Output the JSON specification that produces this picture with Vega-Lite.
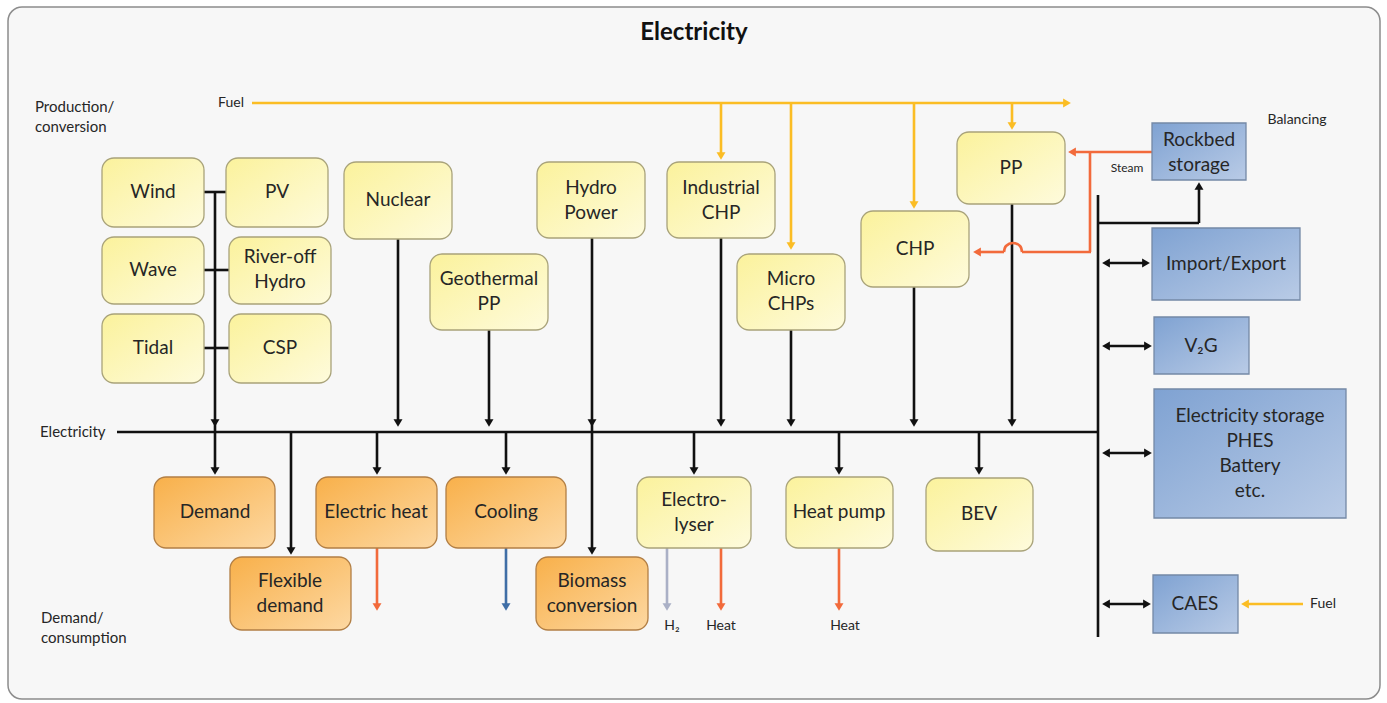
{
  "$schema": "https://vega.github.io/schema/vega-lite/v6.json",
  "width": 1387,
  "height": 703,
  "autosize": {"type": "fit", "contains": "padding"},
  "padding": 0,
  "background": "#ffffff",
  "config": {"view": {"stroke": null}, "font": "Lato"},
  "datasets": {
    "frame": [{"x": 8, "y": 7, "x2": 1380, "y2": 699}],
    "boxes": [
      {"name": "Wind", "type": "yellow", "x": 102, "y": 158, "x2": 204, "y2": 227},
      {"name": "PV", "type": "yellow", "x": 226, "y": 158, "x2": 328, "y2": 227},
      {"name": "Wave", "type": "yellow", "x": 102, "y": 237, "x2": 204, "y2": 304},
      {"name": "River-off Hydro", "type": "yellow", "x": 229, "y": 237, "x2": 331, "y2": 304},
      {"name": "Tidal", "type": "yellow", "x": 102, "y": 314, "x2": 204, "y2": 383},
      {"name": "CSP", "type": "yellow", "x": 229, "y": 314, "x2": 331, "y2": 383},
      {"name": "Nuclear", "type": "yellow", "x": 344, "y": 162, "x2": 452, "y2": 239},
      {"name": "Hydro Power", "type": "yellow", "x": 537, "y": 162, "x2": 645, "y2": 238},
      {"name": "Geothermal PP", "type": "yellow", "x": 430, "y": 254, "x2": 548, "y2": 330},
      {"name": "Industrial CHP", "type": "yellow", "x": 667, "y": 162, "x2": 775, "y2": 238},
      {"name": "Micro CHPs", "type": "yellow", "x": 737, "y": 254, "x2": 845, "y2": 330},
      {"name": "CHP", "type": "yellow", "x": 861, "y": 211, "x2": 969, "y2": 287},
      {"name": "PP", "type": "yellow", "x": 957, "y": 132, "x2": 1065, "y2": 204},
      {"name": "Electrolyser", "type": "yellow", "x": 637, "y": 477, "x2": 751, "y2": 548},
      {"name": "Heat pump", "type": "yellow", "x": 786, "y": 477, "x2": 893, "y2": 548},
      {"name": "BEV", "type": "yellow", "x": 926, "y": 478, "x2": 1033, "y2": 551},
      {"name": "Demand", "type": "orange", "x": 154, "y": 477, "x2": 275, "y2": 548},
      {"name": "Flexible demand", "type": "orange", "x": 230, "y": 557, "x2": 351, "y2": 630},
      {"name": "Electric heat", "type": "orange", "x": 316, "y": 477, "x2": 437, "y2": 548},
      {"name": "Cooling", "type": "orange", "x": 446, "y": 477, "x2": 566, "y2": 548},
      {"name": "Biomass conversion", "type": "orange", "x": 536, "y": 557, "x2": 648, "y2": 630},
      {"name": "Rockbed storage", "type": "blue", "x": 1152, "y": 123, "x2": 1246, "y2": 180},
      {"name": "Import/Export", "type": "blue", "x": 1152, "y": 228, "x2": 1300, "y2": 300},
      {"name": "V2G", "type": "blue", "x": 1154, "y": 317, "x2": 1249, "y2": 374},
      {"name": "Electricity storage", "type": "blue", "x": 1154, "y": 389, "x2": 1346, "y2": 518},
      {"name": "CAES", "type": "blue", "x": 1153, "y": 575, "x2": 1238, "y2": 633}
    ],
    "lines": [
      {"flow": "fuel", "x": 252, "y": 103, "x2": 1066, "y2": 103},
      {"flow": "fuel", "x": 721, "y": 103, "x2": 721, "y2": 156},
      {"flow": "fuel", "x": 791, "y": 103, "x2": 791, "y2": 246},
      {"flow": "fuel", "x": 914, "y": 103, "x2": 914, "y2": 205},
      {"flow": "fuel", "x": 1012, "y": 103, "x2": 1012, "y2": 126},
      {"flow": "fuel", "x": 1303, "y": 604, "x2": 1246, "y2": 604},
      {"flow": "electricity", "x": 117, "y": 432, "x2": 1098, "y2": 432},
      {"flow": "electricity", "x": 215, "y": 192, "x2": 215, "y2": 471},
      {"flow": "electricity", "x": 204, "y": 192, "x2": 226, "y2": 192},
      {"flow": "electricity", "x": 204, "y": 270, "x2": 229, "y2": 270},
      {"flow": "electricity", "x": 204, "y": 348, "x2": 229, "y2": 348},
      {"flow": "electricity", "x": 398, "y": 239, "x2": 398, "y2": 423},
      {"flow": "electricity", "x": 489, "y": 330, "x2": 489, "y2": 423},
      {"flow": "electricity", "x": 592, "y": 238, "x2": 592, "y2": 551},
      {"flow": "electricity", "x": 721, "y": 238, "x2": 721, "y2": 423},
      {"flow": "electricity", "x": 791, "y": 330, "x2": 791, "y2": 423},
      {"flow": "electricity", "x": 914, "y": 287, "x2": 914, "y2": 423},
      {"flow": "electricity", "x": 1012, "y": 204, "x2": 1012, "y2": 423},
      {"flow": "electricity", "x": 291, "y": 432, "x2": 291, "y2": 551},
      {"flow": "electricity", "x": 377, "y": 432, "x2": 377, "y2": 471},
      {"flow": "electricity", "x": 506, "y": 432, "x2": 506, "y2": 471},
      {"flow": "electricity", "x": 694, "y": 432, "x2": 694, "y2": 471},
      {"flow": "electricity", "x": 839, "y": 432, "x2": 839, "y2": 471},
      {"flow": "electricity", "x": 979, "y": 432, "x2": 979, "y2": 471},
      {"flow": "electricity", "x": 1098, "y": 195, "x2": 1098, "y2": 637},
      {"flow": "electricity", "x": 1098, "y": 223, "x2": 1199, "y2": 223},
      {"flow": "electricity", "x": 1199, "y": 223, "x2": 1199, "y2": 187},
      {"flow": "electricity", "x": 1106, "y": 263, "x2": 1145, "y2": 263},
      {"flow": "electricity", "x": 1106, "y": 346, "x2": 1147, "y2": 346},
      {"flow": "electricity", "x": 1106, "y": 453, "x2": 1147, "y2": 453},
      {"flow": "electricity", "x": 1106, "y": 604, "x2": 1146, "y2": 604},
      {"flow": "heat", "x": 1152, "y": 152, "x2": 1073, "y2": 152},
      {"flow": "heat", "x": 1090, "y": 152, "x2": 1090, "y2": 252},
      {"flow": "heat", "x": 1091, "y": 252, "x2": 1022, "y2": 252},
      {"flow": "heat", "x": 1004, "y": 252, "x2": 978, "y2": 252},
      {"flow": "heat", "x": 377, "y": 548, "x2": 377, "y2": 607},
      {"flow": "heat", "x": 721, "y": 548, "x2": 721, "y2": 607},
      {"flow": "heat", "x": 839, "y": 548, "x2": 839, "y2": 607},
      {"flow": "cooling", "x": 506, "y": 548, "x2": 506, "y2": 607},
      {"flow": "h2", "x": 667, "y": 548, "x2": 667, "y2": 607}
    ],
    "hump": [
      {"flow": "heat", "x": 1022, "y": 252},
      {"flow": "heat", "x": 1020, "y": 246},
      {"flow": "heat", "x": 1013, "y": 243},
      {"flow": "heat", "x": 1006, "y": 246},
      {"flow": "heat", "x": 1004, "y": 252}
    ],
    "heads": [
      {"flow": "fuel", "dir": "right", "x": 1067, "y": 103},
      {"flow": "fuel", "dir": "down", "x": 721, "y": 156},
      {"flow": "fuel", "dir": "down", "x": 791, "y": 246},
      {"flow": "fuel", "dir": "down", "x": 914, "y": 205},
      {"flow": "fuel", "dir": "down", "x": 1012, "y": 126},
      {"flow": "fuel", "dir": "left", "x": 1245, "y": 604},
      {"flow": "electricity", "dir": "down", "x": 215, "y": 423},
      {"flow": "electricity", "dir": "down", "x": 398, "y": 423},
      {"flow": "electricity", "dir": "down", "x": 489, "y": 423},
      {"flow": "electricity", "dir": "down", "x": 592, "y": 423},
      {"flow": "electricity", "dir": "down", "x": 721, "y": 423},
      {"flow": "electricity", "dir": "down", "x": 791, "y": 423},
      {"flow": "electricity", "dir": "down", "x": 914, "y": 423},
      {"flow": "electricity", "dir": "down", "x": 1012, "y": 423},
      {"flow": "electricity", "dir": "down", "x": 215, "y": 471},
      {"flow": "electricity", "dir": "down", "x": 377, "y": 471},
      {"flow": "electricity", "dir": "down", "x": 506, "y": 471},
      {"flow": "electricity", "dir": "down", "x": 694, "y": 471},
      {"flow": "electricity", "dir": "down", "x": 839, "y": 471},
      {"flow": "electricity", "dir": "down", "x": 979, "y": 471},
      {"flow": "electricity", "dir": "down", "x": 291, "y": 551},
      {"flow": "electricity", "dir": "down", "x": 592, "y": 551},
      {"flow": "electricity", "dir": "up", "x": 1199, "y": 186},
      {"flow": "electricity", "dir": "left", "x": 1106, "y": 263},
      {"flow": "electricity", "dir": "right", "x": 1146, "y": 263},
      {"flow": "electricity", "dir": "left", "x": 1106, "y": 346},
      {"flow": "electricity", "dir": "right", "x": 1148, "y": 346},
      {"flow": "electricity", "dir": "left", "x": 1106, "y": 453},
      {"flow": "electricity", "dir": "right", "x": 1148, "y": 453},
      {"flow": "electricity", "dir": "left", "x": 1106, "y": 604},
      {"flow": "electricity", "dir": "right", "x": 1147, "y": 604},
      {"flow": "heat", "dir": "left", "x": 1072, "y": 152},
      {"flow": "heat", "dir": "left", "x": 977, "y": 252},
      {"flow": "heat", "dir": "down", "x": 377, "y": 607},
      {"flow": "heat", "dir": "down", "x": 721, "y": 607},
      {"flow": "heat", "dir": "down", "x": 839, "y": 607},
      {"flow": "cooling", "dir": "down", "x": 506, "y": 607},
      {"flow": "h2", "dir": "down", "x": 667, "y": 607}
    ],
    "labels": [
      {"kind": "title", "text": "Electricity", "x": 694, "y": 33},
      {"kind": "box", "text": "Wind", "x": 153, "y": 192},
      {"kind": "box", "text": "PV", "x": 277, "y": 192},
      {"kind": "box", "text": "Wave", "x": 153, "y": 270},
      {"kind": "box", "text": "River-off\nHydro", "x": 280, "y": 257},
      {"kind": "box", "text": "Tidal", "x": 153, "y": 348},
      {"kind": "box", "text": "CSP", "x": 280, "y": 348},
      {"kind": "box", "text": "Nuclear", "x": 398, "y": 200},
      {"kind": "box", "text": "Hydro\nPower", "x": 591, "y": 188},
      {"kind": "box", "text": "Geothermal\nPP", "x": 489, "y": 279},
      {"kind": "box", "text": "Industrial\nCHP", "x": 721, "y": 188},
      {"kind": "box", "text": "Micro\nCHPs", "x": 791, "y": 279},
      {"kind": "box", "text": "CHP", "x": 915, "y": 249},
      {"kind": "box", "text": "PP", "x": 1011, "y": 168},
      {"kind": "box", "text": "Rockbed\nstorage", "x": 1199, "y": 140},
      {"kind": "box", "text": "Import/Export", "x": 1226, "y": 264},
      {"kind": "box", "text": "V₂G", "x": 1201, "y": 346},
      {"kind": "box", "text": "Electricity storage\nPHES\nBattery\netc.", "x": 1250, "y": 416},
      {"kind": "box", "text": "CAES", "x": 1195, "y": 604},
      {"kind": "box", "text": "Demand", "x": 215, "y": 512},
      {"kind": "box", "text": "Flexible\ndemand", "x": 290, "y": 581},
      {"kind": "box", "text": "Electric heat", "x": 376, "y": 512},
      {"kind": "box", "text": "Cooling", "x": 506, "y": 512},
      {"kind": "box", "text": "Biomass\nconversion", "x": 592, "y": 581},
      {"kind": "box", "text": "Electro-\nlyser", "x": 694, "y": 500},
      {"kind": "box", "text": "Heat pump", "x": 839, "y": 512},
      {"kind": "box", "text": "BEV", "x": 979, "y": 514},
      {"kind": "note", "text": "Fuel", "x": 231, "y": 103},
      {"kind": "note", "text": "Fuel", "x": 1323, "y": 604},
      {"kind": "note", "text": "Balancing", "x": 1297, "y": 120},
      {"kind": "note", "text": "H₂", "x": 672, "y": 626},
      {"kind": "note", "text": "Heat", "x": 721, "y": 626},
      {"kind": "note", "text": "Heat", "x": 845, "y": 626},
      {"kind": "steam", "text": "Steam", "x": 1127, "y": 168},
      {"kind": "side", "text": "Electricity", "x": 40, "y": 432},
      {"kind": "side", "text": "Production/\nconversion", "x": 35, "y": 107},
      {"kind": "side", "text": "Demand/\nconsumption", "x": 41, "y": 618}
    ]
  },
  "encoding": {
    "x": {"field": "x", "type": "quantitative", "scale": {"domain": [0, 1387], "nice": false, "zero": false}, "axis": null},
    "y": {"field": "y", "type": "quantitative", "scale": {"domain": [0, 703], "nice": false, "zero": false, "reverse": true}, "axis": null}
  },
  "layer": [
    {
      "data": {"name": "frame"},
      "mark": {"type": "rect", "fill": "#f7f7f7", "stroke": "#8c8c8c", "strokeWidth": 1.5, "cornerRadius": 14},
      "encoding": {"x2": {"field": "x2"}, "y2": {"field": "y2"}}
    },
    {
      "data": {"name": "lines"},
      "mark": {"type": "rule", "strokeWidth": 2.6},
      "encoding": {
        "x2": {"field": "x2"}, "y2": {"field": "y2"},
        "color": {"field": "flow", "type": "nominal", "legend": null,
          "scale": {"domain": ["fuel", "electricity", "heat", "cooling", "h2"], "range": ["#fbbd24", "#111111", "#f26a3b", "#3f6ea6", "#aab0c6"]}}
      }
    },
    {
      "data": {"name": "hump"},
      "mark": {"type": "line", "strokeWidth": 2.6, "interpolate": "cardinal"},
      "encoding": {
        "color": {"field": "flow", "type": "nominal", "legend": null,
          "scale": {"domain": ["fuel", "electricity", "heat", "cooling", "h2"], "range": ["#fbbd24", "#111111", "#f26a3b", "#3f6ea6", "#aab0c6"]}}
      }
    },
    {
      "data": {"name": "boxes"},
      "transform": [{"filter": "datum.type === 'yellow'"}],
      "mark": {"type": "rect", "cornerRadius": 12, "stroke": "#a9a37a", "strokeWidth": 1.3,
        "fill": {"gradient": "linear", "x1": 0, "y1": 0, "x2": 1, "y2": 1,
          "stops": [{"offset": 0, "color": "#fbf29c"}, {"offset": 1, "color": "#fefbdc"}]}},
      "encoding": {"x2": {"field": "x2"}, "y2": {"field": "y2"}}
    },
    {
      "data": {"name": "boxes"},
      "transform": [{"filter": "datum.type === 'orange'"}],
      "mark": {"type": "rect", "cornerRadius": 12, "stroke": "#b27f45", "strokeWidth": 1.3,
        "fill": {"gradient": "linear", "x1": 0, "y1": 0, "x2": 1, "y2": 1,
          "stops": [{"offset": 0, "color": "#f8b04a"}, {"offset": 1, "color": "#fdd8a2"}]}},
      "encoding": {"x2": {"field": "x2"}, "y2": {"field": "y2"}}
    },
    {
      "data": {"name": "boxes"},
      "transform": [{"filter": "datum.type === 'blue'"}],
      "mark": {"type": "rect", "cornerRadius": 0, "stroke": "#7489a6", "strokeWidth": 1.3,
        "fill": {"gradient": "linear", "x1": 0, "y1": 0, "x2": 1, "y2": 1,
          "stops": [{"offset": 0, "color": "#7fa2d2"}, {"offset": 1, "color": "#b9cbe6"}]}},
      "encoding": {"x2": {"field": "x2"}, "y2": {"field": "y2"}}
    },
    {
      "data": {"name": "heads"},
      "mark": {"type": "point", "filled": true, "opacity": 1, "size": 80, "strokeWidth": 0},
      "encoding": {
        "shape": {"field": "dir", "type": "nominal", "legend": null,
          "scale": {"domain": ["down", "up", "left", "right"], "range": ["triangle-down", "triangle-up", "triangle-left", "triangle-right"]}},
        "color": {"field": "flow", "type": "nominal", "legend": null,
          "scale": {"domain": ["fuel", "electricity", "heat", "cooling", "h2"], "range": ["#fbbd24", "#111111", "#f26a3b", "#3f6ea6", "#aab0c6"]}}
      }
    },
    {
      "data": {"name": "labels"},
      "transform": [{"filter": "datum.kind === 'box'"}],
      "mark": {"type": "text", "fontSize": 19, "color": "#262626", "align": "center", "baseline": "middle", "lineBreak": "\n", "lineHeight": 25},
      "encoding": {"text": {"field": "text"}}
    },
    {
      "data": {"name": "labels"},
      "transform": [{"filter": "datum.kind === 'note'"}],
      "mark": {"type": "text", "fontSize": 14, "color": "#262626", "align": "center", "baseline": "middle"},
      "encoding": {"text": {"field": "text"}}
    },
    {
      "data": {"name": "labels"},
      "transform": [{"filter": "datum.kind === 'steam'"}],
      "mark": {"type": "text", "fontSize": 12, "color": "#262626", "align": "center", "baseline": "middle"},
      "encoding": {"text": {"field": "text"}}
    },
    {
      "data": {"name": "labels"},
      "transform": [{"filter": "datum.kind === 'side'"}],
      "mark": {"type": "text", "fontSize": 15, "color": "#262626", "align": "left", "baseline": "middle", "lineBreak": "\n", "lineHeight": 20},
      "encoding": {"text": {"field": "text"}}
    },
    {
      "data": {"name": "labels"},
      "transform": [{"filter": "datum.kind === 'title'"}],
      "mark": {"type": "text", "fontSize": 24, "fontWeight": "bold", "color": "#111111", "align": "center", "baseline": "middle"},
      "encoding": {"text": {"field": "text"}}
    }
  ]
}
